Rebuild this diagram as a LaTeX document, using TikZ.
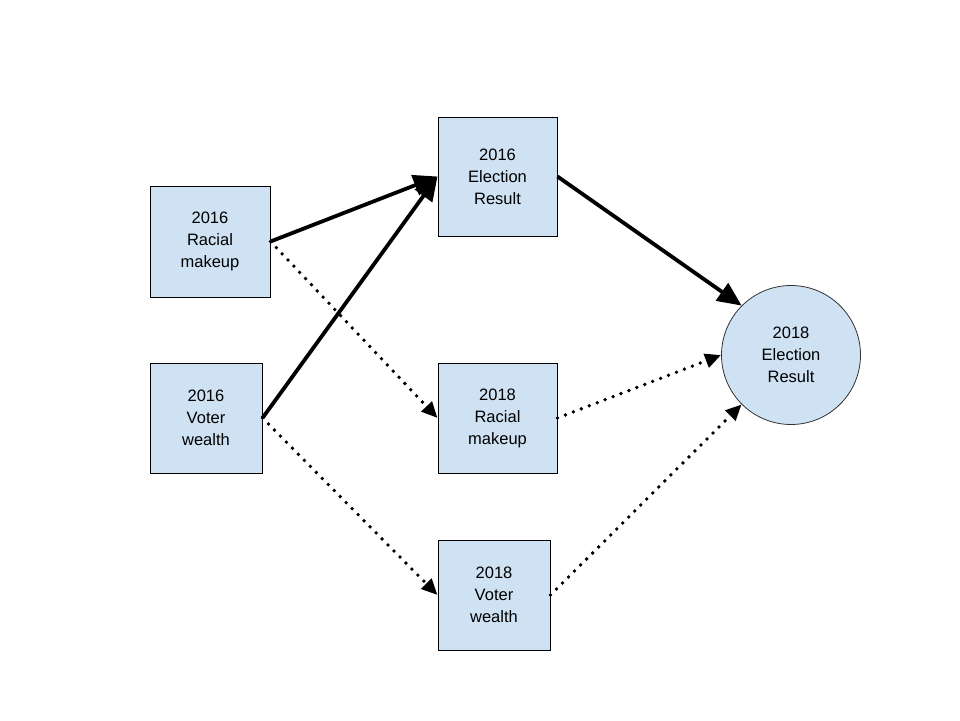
\documentclass[tikz,border=0pt]{standalone}
\usepackage{fontspec}
\setmainfont{Liberation Sans}
\usetikzlibrary{arrows.meta}
\definecolor{boxfill}{HTML}{CFE2F3}
\tikzset{
  box/.style={draw=black, line width=1pt, fill=boxfill, inner sep=0pt, align=center,
    font=\fontsize{16.5}{22}\selectfont},
  circ/.style={circle, draw=black!80, line width=0.8pt, fill=boxfill, inner sep=0pt,
    minimum size=139pt, align=center, font=\fontsize{16.5}{22}\selectfont},
  strong/.style={line width=3.8pt, -{Triangle[length=24pt, width=21pt]}},
  weak/.style={line width=3.8pt, line cap=round, dash pattern=on 0pt off 8.5pt,
    -{Triangle[length=16pt, width=14pt]}}
}
\begin{document}
\begin{tikzpicture}[x=1pt, y=-1pt]
\useasboundingbox (0,0) rectangle (960,720);
\node[box, minimum width=120pt, minimum height=111pt] (r16) at (210,241.5) {2016\\Racial\\makeup};
\node[box, minimum width=112pt, minimum height=110pt] (w16) at (206,418) {2016\\Voter\\wealth};
\node[box, minimum width=119pt, minimum height=119pt] (e16) at (497.5,176.5) {2016\\Election\\Result};
\node[box, minimum width=119pt, minimum height=110pt] (r18) at (497.5,418) {2018\\Racial\\makeup};
\node[box, minimum width=112pt, minimum height=110pt] (w18) at (494,595) {2018\\Voter\\wealth};
\node[circ] (e18) at (791,355) {2018\\Election\\Result};

\draw[strong] (r16.east) -- (e16.west);
\draw[strong] (w16.east) -- (e16.west);
\draw[strong] (e16.east) -- (e18.north west);
\draw[weak] (r16.east) -- (r18.west);
\draw[weak] (w16.east) -- (w18.west);
\draw[weak] (r18.east) -- (e18.west);
\draw[weak] (w18.east) -- (e18.south west);
\end{tikzpicture}
\end{document}
